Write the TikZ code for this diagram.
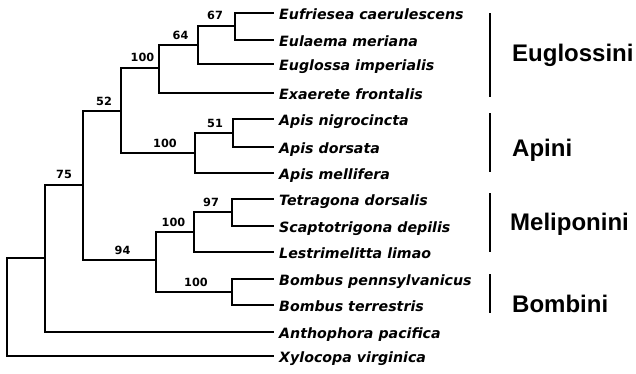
\documentclass[tikz,border=0pt]{standalone}
\usepackage{fontspec}
\newfontfamily\taxfont{DejaVu Sans Bold Oblique}
\newfontfamily\numfont{DejaVu Sans Bold}
\newfontfamily\cladefont{Liberation Sans Bold}
\tikzset{
  branch/.style={line width=2pt, line cap=rect},
  bar/.style={line width=2pt},
  taxon/.style={anchor=base west, inner sep=0pt, font=\taxfont\fontsize{14.2}{14.2}\selectfont},
  support/.style={anchor=base, inner sep=0pt, font=\numfont\fontsize{11.3}{11.3}\selectfont},
  clade/.style={anchor=base west, inner sep=0pt, font=\cladefont\fontsize{24}{24}\selectfont},
}
\begin{document}
\begin{tikzpicture}[x=1pt,y=-1pt]
\useasboundingbox (0,0) rectangle (636,373);
% leaf tips
\coordinate (l1) at (273,13);
\coordinate (l2) at (273,40);
\coordinate (l3) at (273,64);
\coordinate (l4) at (273,93);
\coordinate (l5) at (273,119);
\coordinate (l6) at (273,147);
\coordinate (l7) at (273,173);
\coordinate (l8) at (273,199);
\coordinate (l9) at (273,226);
\coordinate (l10) at (273,252);
\coordinate (l11) at (273,279);
\coordinate (l12) at (273,305);
\coordinate (l13) at (273,332);
\coordinate (l14) at (273,356);
% internal nodes
\coordinate (n67) at (235,26);
\coordinate (n64) at (198,45);
\coordinate (nEu) at (159,68);
\coordinate (n51) at (233,133);
\coordinate (nAp) at (195,153);
\coordinate (n52) at (121,111);
\coordinate (n97) at (232,212);
\coordinate (nMe) at (194,232);
\coordinate (nBo) at (232,292);
\coordinate (n94) at (156,260);
\coordinate (n75) at (83,185);
\coordinate (nOut) at (45,258);
\coordinate (root) at (7,307);
% branches
\draw[branch] (n67) |- (l1);
\draw[branch] (n67) |- (l2);
\draw[branch] (n64) |- (n67);
\draw[branch] (n64) |- (l3);
\draw[branch] (nEu) |- (n64);
\draw[branch] (nEu) |- (l4);
\draw[branch] (n51) |- (l5);
\draw[branch] (n51) |- (l6);
\draw[branch] (nAp) |- (n51);
\draw[branch] (nAp) |- (l7);
\draw[branch] (n52) |- (nEu);
\draw[branch] (n52) |- (nAp);
\draw[branch] (n97) |- (l8);
\draw[branch] (n97) |- (l9);
\draw[branch] (nMe) |- (n97);
\draw[branch] (nMe) |- (l10);
\draw[branch] (nBo) |- (l11);
\draw[branch] (nBo) |- (l12);
\draw[branch] (n94) |- (nMe);
\draw[branch] (n94) |- (nBo);
\draw[branch] (n75) |- (n52);
\draw[branch] (n75) |- (n94);
\draw[branch] (nOut) |- (n75);
\draw[branch] (nOut) |- (l13);
\draw[branch] (root) |- (nOut);
\draw[branch] (root) |- (l14);
% support values
\node[support] (s67) at (215,19.5) {67};
\node[support] (s64) at (180.5,39.5) {64};
\node[support] (sEu) at (142.5,61.5) {100};
\node[support] (s51) at (215,127) {51};
\node[support] (sAp) at (165,147.5) {100};
\node[support] (s52) at (104,105) {52};
\node[support] (s97) at (211,206) {97};
\node[support] (sMe) at (173.5,226.5) {100};
\node[support] (sBo) at (196,286.5) {100};
\node[support] (s94) at (122.5,254.5) {94};
\node[support] (s75) at (64,178.5) {75};
% taxa
\node[taxon] (t1) at (279,19) {Eufriesea caerulescens};
\node[taxon] (t2) at (279,46) {Eulaema meriana};
\node[taxon] (t3) at (279,70.5) {Euglossa imperialis};
\node[taxon] (t4) at (279,99) {Exaerete frontalis};
\node[taxon] (t5) at (279,125) {Apis nigrocincta};
\node[taxon] (t6) at (279,153) {Apis dorsata};
\node[taxon] (t7) at (279,179.5) {Apis mellifera};
\node[taxon] (t8) at (279,205.5) {Tetragona dorsalis};
\node[taxon] (t9) at (279,232) {Scaptotrigona depilis};
\node[taxon] (t10) at (279,258) {Lestrimelitta limao};
\node[taxon] (t11) at (279,285.5) {Bombus pennsylvanicus};
\node[taxon] (t12) at (279,311.5) {Bombus terrestris};
\node[taxon] (t13) at (279,338) {Anthophora pacifica};
\node[taxon] (t14) at (279,362) {Xylocopa virginica};
% clade bars
\coordinate (bEu1) at (490,13); \coordinate (bEu2) at (490,97);
\coordinate (bAp1) at (490,113); \coordinate (bAp2) at (490,172);
\coordinate (bMe1) at (490,193); \coordinate (bMe2) at (490,252);
\coordinate (bBo1) at (490,274); \coordinate (bBo2) at (490,313);
\draw[bar] (bEu1) -- (bEu2);
\draw[bar] (bAp1) -- (bAp2);
\draw[bar] (bMe1) -- (bMe2);
\draw[bar] (bBo1) -- (bBo2);
\node[clade] (cEu) at (512,61) {Euglossini};
\node[clade] (cAp) at (512,156) {Apini};
\node[clade] (cMe) at (510,230) {Meliponini};
\node[clade] (cBo) at (512,312.5) {Bombini};
\end{tikzpicture}
\end{document}
